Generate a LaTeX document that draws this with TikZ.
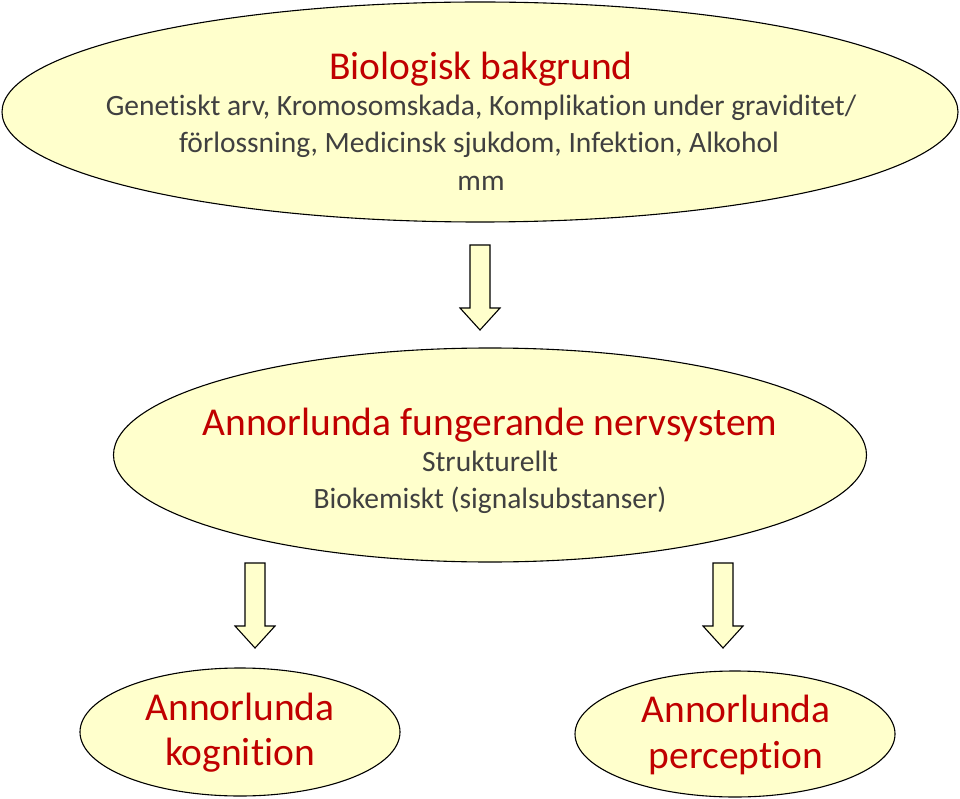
\documentclass[tikz,border=0pt]{standalone}
\usepackage{fontspec}
\setmainfont{Carlito}[Ligatures=NoCommon]
\usetikzlibrary{shapes.geometric}
\definecolor{fillY}{RGB}{255,255,204}
\definecolor{titleR}{RGB}{192,0,0}
\definecolor{bodyG}{RGB}{64,64,64}
\tikzset{
  blob/.style={ellipse, draw=black, line width=1.1pt, fill=fillY, inner sep=0pt},
  ttl/.style={text=titleR, inner sep=0pt, anchor=base, font=\fontsize{39.5}{44}\selectfont},
  bdy/.style={text=bodyG, inner sep=0pt, anchor=base, font=\fontsize{29.5}{34}\selectfont},
  arrowstyle/.style={draw=black, line width=1.1pt, fill=fillY, line join=miter},
  pics/downarrow/.style={code={
    \path[arrowstyle] (-10,0) -- (10,0) -- (10,63) -- (20,63) -- (0,85) -- (-20,63) -- (-10,63) -- cycle;}}
}
\begin{document}
\begin{tikzpicture}[x=1pt,y=-1pt]
\useasboundingbox (0,0) rectangle (960,799);
% ellipses
\node[blob, minimum width=956pt, minimum height=220pt] (top) at (480,112) {};
\node[blob, minimum width=753pt, minimum height=214pt] (mid) at (490,455) {};
\node[blob, minimum width=320pt, minimum height=128pt] (left) at (240,732) {};
\node[blob, minimum width=320pt, minimum height=126pt] (right) at (735,734) {};
% arrows
\pic (a1) at (480,245) {downarrow};
\pic (a2) at (255,563) {downarrow};
\pic (a3) at (723,563) {downarrow};
% top text
\node[ttl] (t1) at (481,80) {Biologisk bakgrund};
\node[bdy] (t2) at (481,116) {Genetiskt arv, Kromosomskada, Komplikation under graviditet/};
\node[bdy] (t3) at (479,153) {förlossning, Medicinsk sjukdom, Infektion, Alkohol};
\node[bdy] (t4) at (481,191) {mm};
% middle text
\node[ttl] (m1) at (490,435) {Annorlunda fungerande nervsystem};
\node[bdy] (m2) at (490,471) {Strukturellt};
\node[bdy] (m3) at (490,508) {Biokemiskt (signalsubstanser)};
% bottom text
\node[ttl] (l1) at (240,720) {Annorlunda};
\node[ttl] (l2) at (240,765) {kognition};
\node[ttl] (r1) at (736,722) {Annorlunda};
\node[ttl] (r2) at (736,768) {perception};
\end{tikzpicture}
\end{document}
